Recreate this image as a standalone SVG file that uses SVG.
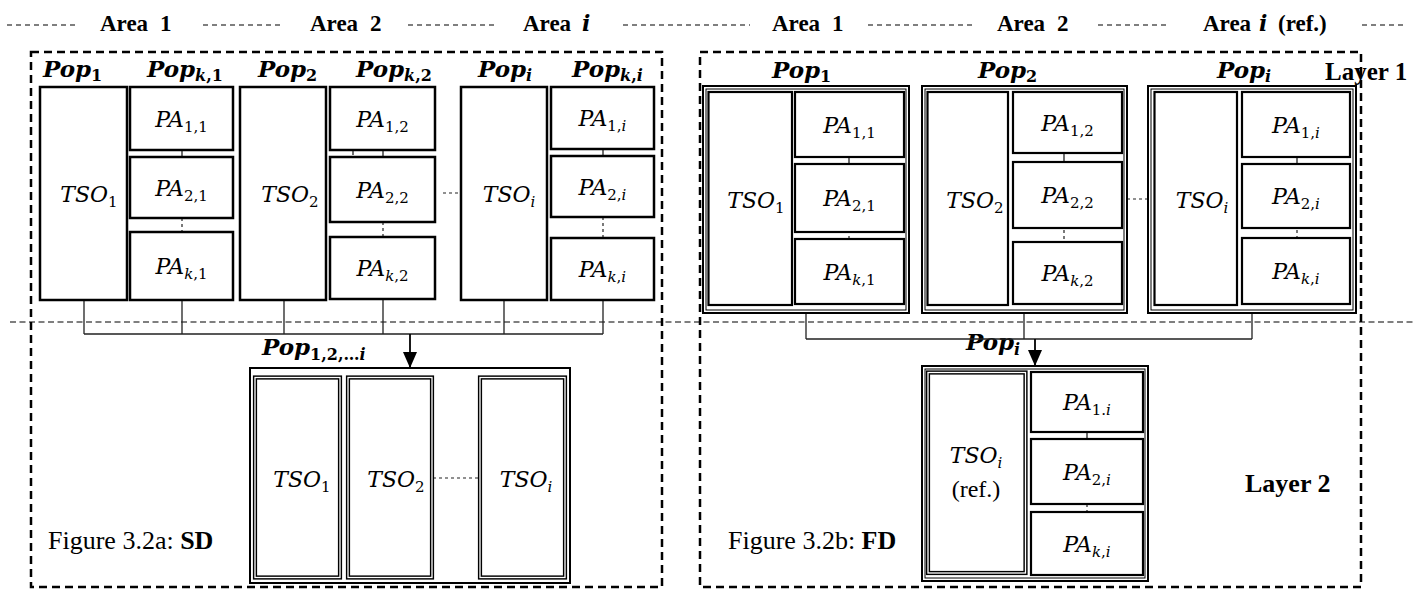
<svg xmlns="http://www.w3.org/2000/svg" width="1425" height="597" viewBox="0 0 1425 597">
<defs>
<style>
.bg{fill:#fff}
.frame{fill:none;stroke:#000;stroke-width:2.5;stroke-dasharray:8 5}
.hd{fill:none;stroke:#000;stroke-width:1.2;stroke-dasharray:5 4}
.mid{fill:none;stroke:#000;stroke-width:1.2;stroke-dasharray:6 3.5}
.bx{fill:#fff;stroke:#000;stroke-width:2.5}
.bx2{fill:#fff;stroke:#000;stroke-width:2.2}
.g2{fill:none;stroke:#000;stroke-width:2}
.g1{fill:none;stroke:#000;stroke-width:1}
.dbl{fill:#fff;stroke:#000;stroke-width:4.2}
.dblw{fill:none;stroke:#fff;stroke-width:1.3}
.cn{fill:none;stroke:#222;stroke-width:1.3}
.cnd{fill:none;stroke:#222;stroke-width:1.2;stroke-dasharray:3 3}
.arrow{fill:none;stroke:#000;stroke-width:1.8}
.m{font-family:"DejaVu Serif",serif;font-style:italic;font-size:22px;fill:#000}
.s{font-style:normal;font-size:15px}
.p{font-family:"DejaVu Serif",serif;font-style:italic;font-weight:bold;font-size:23px;fill:#000}
.ps{font-style:normal;font-size:16px}
.si{font-style:italic}
.h{font-family:"Liberation Serif",serif;font-weight:bold;font-size:23px;fill:#000}
.hi{font-family:"DejaVu Serif",serif;font-style:italic;font-weight:bold;font-size:22px}
.ly1{font-family:"Liberation Serif",serif;font-weight:bold;font-size:25px;fill:#000}
.ly2{font-family:"Liberation Serif",serif;font-weight:bold;font-size:26px;fill:#000}
.t{font-family:"Liberation Serif",serif;font-size:26px;fill:#000}
.r{font-family:"Liberation Serif",serif;font-size:24px;fill:#000}
</style>
<marker id="arr" viewBox="0 0 16 14" refX="16" refY="7" markerWidth="16" markerHeight="14" markerUnits="userSpaceOnUse" orient="auto">
<path d="M0,0 L16,7 L0,14 z" fill="#000"/>
</marker>
</defs>
<rect class="bg" x="0" y="0" width="1425" height="597"/>

<g id="header">
<line class="hd" x1="7" y1="25" x2="78" y2="25"/>
<line class="hd" x1="203" y1="25" x2="283" y2="25"/>
<line class="hd" x1="408" y1="25" x2="497" y2="25"/>
<line class="hd" x1="623" y1="25" x2="750" y2="25"/>
<line class="hd" x1="868" y1="25" x2="972" y2="25"/>
<line class="hd" x1="1098" y1="25" x2="1170" y2="25"/>
<line class="hd" x1="1362" y1="25" x2="1403" y2="25"/>
<text class="h" x="100" y="31">Area<tspan x="160">1</tspan></text>
<text class="h" x="310" y="31">Area<tspan x="370">2</tspan></text>
<text class="h" x="523" y="31">Area<tspan x="582" class="hi">i</tspan></text>
<text class="h" x="772" y="31">Area<tspan x="832">1</tspan></text>
<text class="h" x="997" y="31">Area<tspan x="1057">2</tspan></text>
<text class="h" x="1203" y="31">Area<tspan x="1259" class="hi">i</tspan><tspan x="1278">(ref.)</tspan></text>
</g>

<g id="frames">
<rect class="frame" x="31" y="52" width="631" height="535"/>
<rect class="frame" x="700" y="52" width="661" height="535"/>
<line class="mid" x1="10" y1="322" x2="1415" y2="322"/>
</g>

<g id="labels">
<text class="p" x="43" y="77">Pop<tspan class="ps" dy="4">1</tspan></text>
<text class="p" x="147" y="77">Pop<tspan class="ps" dy="4"><tspan class="si">k</tspan>,1</tspan></text>
<text class="p" x="258" y="77">Pop<tspan class="ps" dy="4">2</tspan></text>
<text class="p" x="356" y="77">Pop<tspan class="ps" dy="4"><tspan class="si">k</tspan>,2</tspan></text>
<text class="p" x="478" y="77">Pop<tspan class="ps si" dy="4">i</tspan></text>
<text class="p" x="572" y="77">Pop<tspan class="ps" dy="4"><tspan class="si">k</tspan>,<tspan class="si">i</tspan></tspan></text>
<text class="p" x="772" y="78">Pop<tspan class="ps" dy="4">1</tspan></text>
<text class="p" x="978" y="78">Pop<tspan class="ps" dy="4">2</tspan></text>
<text class="p" x="1217" y="78">Pop<tspan class="ps si" dy="4">i</tspan></text>
<text class="ly1" x="1325" y="80">Layer 1</text>
<text class="ly2" x="1245" y="492">Layer 2</text>
<text class="p" x="262" y="355">Pop<tspan class="ps" dy="5">1,2,…<tspan class="si">i</tspan></tspan></text>
<text class="p" x="966" y="350">Pop<tspan class="ps si" dy="5">i</tspan></text>
<text class="t" x="48" y="549">Figure 3.2a: <tspan font-weight="bold">SD</tspan></text>
<text class="t" x="728" y="549">Figure 3.2b: <tspan font-weight="bold">FD</tspan></text>
</g>

<g id="connectors">
<line class="cn" x1="182" y1="150" x2="182" y2="157"/>
<line class="cnd" x1="182" y1="218" x2="182" y2="240"/>
<line class="cn" x1="383" y1="150" x2="383" y2="157"/>
<line class="cn" x1="353" y1="147" x2="353" y2="155"/>
<line class="cnd" x1="383" y1="222" x2="383" y2="242"/>
<line class="cn" x1="603" y1="149" x2="603" y2="156"/>
<line class="cnd" x1="603" y1="217" x2="603" y2="239"/>
<line class="cnd" x1="443" y1="193" x2="460" y2="193"/>
<path class="cn" d="M84,300 V334 M182,300 V334 M284,300 V334 M383,300 V334 M504,300 V334 M603,300 V334 M84,334 H603"/>
<path class="arrow" d="M410,334 V368" marker-end="url(#arr)"/>
<line class="cn" x1="849" y1="157" x2="849" y2="164"/>
<line class="cnd" x1="849" y1="224" x2="849" y2="244"/>
<line class="cn" x1="1064" y1="153" x2="1064" y2="162"/>
<line class="cnd" x1="1064" y1="224" x2="1064" y2="245"/>
<line class="cn" x1="1297" y1="157" x2="1297" y2="164"/>
<line class="cnd" x1="1297" y1="224" x2="1297" y2="244"/>
<line class="cnd" x1="1127" y1="199" x2="1147" y2="199"/>
<path class="cn" d="M806,313 V339 M1024,313 V339 M1252,313 V339 M806,339 H1252"/>
<path class="arrow" d="M1035,339 V366" marker-end="url(#arr)"/>
<line class="cnd" x1="433" y1="478" x2="478" y2="478"/>
<line class="cn" x1="1087" y1="432" x2="1087" y2="439"/>
<line class="cnd" x1="1087" y1="498" x2="1087" y2="518"/>
</g>

<!-- SD layer 1 -->
<g id="sd-tso1"><rect class="bx" x="40" y="87" width="87" height="213"/><text class="m" x="89" y="202" text-anchor="middle">TSO<tspan class="s" dy="5">1</tspan></text></g>
<g id="sd-pa11"><rect class="bx" x="130" y="87" width="103" height="63"/><text class="m" x="181.5" y="126.5" text-anchor="middle">PA<tspan class="s" dy="5">1,1</tspan></text></g>
<g id="sd-pa21"><rect class="bx" x="130" y="157" width="103" height="61"/><text class="m" x="181.5" y="195.5" text-anchor="middle">PA<tspan class="s" dy="5">2,1</tspan></text></g>
<g id="sd-pak1"><rect class="bx" x="130" y="232" width="103" height="68"/><text class="m" x="181.5" y="274" text-anchor="middle">PA<tspan class="s" dy="5"><tspan class="si">k</tspan>,1</tspan></text></g>
<g id="sd-tso2"><rect class="bx" x="240" y="87" width="86" height="213"/><text class="m" x="290" y="202" text-anchor="middle">TSO<tspan class="s" dy="5">2</tspan></text></g>
<g id="sd-pa12"><rect class="bx" x="330" y="87" width="105" height="63"/><text class="m" x="382.5" y="126.5" text-anchor="middle">PA<tspan class="s" dy="5">1,2</tspan></text></g>
<g id="sd-pa22"><rect class="bx" x="330" y="157" width="105" height="65"/><text class="m" x="382.5" y="197.5" text-anchor="middle">PA<tspan class="s" dy="5">2,2</tspan></text></g>
<g id="sd-pak2"><rect class="bx" x="330" y="237" width="105" height="62"/><text class="m" x="382.5" y="276" text-anchor="middle">PA<tspan class="s" dy="5"><tspan class="si">k</tspan>,2</tspan></text></g>
<g id="sd-tsoi"><rect class="bx" x="461" y="87" width="86" height="213"/><text class="m" x="509" y="202" text-anchor="middle">TSO<tspan class="s si" dy="5">i</tspan></text></g>
<g id="sd-pa1i"><rect class="bx" x="551" y="87" width="103" height="62"/><text class="m" x="602.5" y="126" text-anchor="middle">PA<tspan class="s" dy="5">1,<tspan class="si">i</tspan></tspan></text></g>
<g id="sd-pa2i"><rect class="bx" x="551" y="156" width="103" height="61"/><text class="m" x="602.5" y="194.5" text-anchor="middle">PA<tspan class="s" dy="5">2,<tspan class="si">i</tspan></tspan></text></g>
<g id="sd-paki"><rect class="bx" x="551" y="238" width="103" height="62"/><text class="m" x="602.5" y="277" text-anchor="middle">PA<tspan class="s" dy="5"><tspan class="si">k</tspan>,<tspan class="si">i</tspan></tspan></text></g>

<!-- SD layer 2 -->
<g id="sd-central">
<rect class="g2" x="250" y="368" width="320" height="215"/>
<g id="sd-c-tso1"><rect class="dbl" x="255" y="377.5" width="85" height="200"/><rect class="dblw" x="255" y="377.5" width="85" height="200"/><text class="m" x="302" y="487" text-anchor="middle">TSO<tspan class="s" dy="5">1</tspan></text></g>
<g id="sd-c-tso2"><rect class="dbl" x="348" y="377.5" width="84" height="200"/><rect class="dblw" x="348" y="377.5" width="84" height="200"/><text class="m" x="396" y="487" text-anchor="middle">TSO<tspan class="s" dy="5">2</tspan></text></g>
<g id="sd-c-tsoi"><rect class="dbl" x="480" y="377.5" width="85" height="200"/><rect class="dblw" x="480" y="377.5" width="85" height="200"/><text class="m" x="526" y="487" text-anchor="middle">TSO<tspan class="s si" dy="5">i</tspan></text></g>
</g>

<!-- FD layer 1 -->
<g id="fd-area1">
<rect class="g2" x="703" y="86" width="206" height="227"/>
<rect class="g1" x="706" y="89" width="200" height="221"/>
<g id="fd-tso1"><rect class="bx2" x="708.5" y="92" width="83.5" height="213"/><text class="m" x="756" y="208" text-anchor="middle">TSO<tspan class="s" dy="5">1</tspan></text></g>
<g id="fd-pa11"><rect class="bx2" x="795" y="92" width="109" height="65"/><text class="m" x="849.5" y="132.5" text-anchor="middle">PA<tspan class="s" dy="5">1,1</tspan></text></g>
<g id="fd-pa21"><rect class="bx2" x="795" y="164" width="109" height="68"/><text class="m" x="849.5" y="206" text-anchor="middle">PA<tspan class="s" dy="5">2,1</tspan></text></g>
<g id="fd-pak1"><rect class="bx2" x="795" y="239" width="109" height="65"/><text class="m" x="849.5" y="279.5" text-anchor="middle">PA<tspan class="s" dy="5"><tspan class="si">k</tspan>,1</tspan></text></g>
</g>
<g id="fd-area2">
<rect class="g2" x="922" y="86" width="205" height="227"/>
<rect class="g1" x="925" y="89" width="199" height="221"/>
<g id="fd-tso2"><rect class="bx2" x="927.5" y="92" width="80.5" height="213"/><text class="m" x="975" y="208" text-anchor="middle">TSO<tspan class="s" dy="5">2</tspan></text></g>
<g id="fd-pa12"><rect class="bx2" x="1013" y="92" width="109" height="61"/><text class="m" x="1067.5" y="130.5" text-anchor="middle">PA<tspan class="s" dy="5">1,2</tspan></text></g>
<g id="fd-pa22"><rect class="bx2" x="1013" y="162" width="109" height="66"/><text class="m" x="1067.5" y="203" text-anchor="middle">PA<tspan class="s" dy="5">2,2</tspan></text></g>
<g id="fd-pak2"><rect class="bx2" x="1013" y="242" width="109" height="62"/><text class="m" x="1067.5" y="281" text-anchor="middle">PA<tspan class="s" dy="5"><tspan class="si">k</tspan>,2</tspan></text></g>
</g>
<g id="fd-areai">
<rect class="g2" x="1148" y="86" width="208" height="227"/>
<rect class="g1" x="1151" y="89" width="202" height="221"/>
<g id="fd-tsoi"><rect class="bx2" x="1154.5" y="92" width="82.5" height="213"/><text class="m" x="1202" y="208" text-anchor="middle">TSO<tspan class="s si" dy="5">i</tspan></text></g>
<g id="fd-pa1i"><rect class="bx2" x="1242" y="92" width="108" height="65"/><text class="m" x="1296" y="132.5" text-anchor="middle">PA<tspan class="s" dy="5">1,<tspan class="si">i</tspan></tspan></text></g>
<g id="fd-pa2i"><rect class="bx2" x="1242" y="164" width="108" height="64"/><text class="m" x="1296" y="204" text-anchor="middle">PA<tspan class="s" dy="5">2,<tspan class="si">i</tspan></tspan></text></g>
<g id="fd-paki"><rect class="bx2" x="1242" y="238" width="108" height="66"/><text class="m" x="1296" y="279" text-anchor="middle">PA<tspan class="s" dy="5"><tspan class="si">k</tspan>,<tspan class="si">i</tspan></tspan></text></g>
</g>

<!-- FD layer 2 -->
<g id="fd-central">
<rect class="g2" x="922" y="366" width="226" height="215"/>
<rect class="g1" x="925" y="369" width="220" height="209"/>
<g id="fd-c-tsoi"><rect class="dbl" x="928" y="372.5" width="97.5" height="200.5"/><rect class="dblw" x="928" y="372.5" width="97.5" height="200.5"/><text class="m" x="976" y="463" text-anchor="middle">TSO<tspan class="s si" dy="5">i</tspan></text><text class="r" x="976" y="497" text-anchor="middle">(ref.)</text></g>
<g id="fd-c-pa1i"><rect class="bx2" x="1031" y="372" width="112" height="60"/><text class="m" x="1087" y="410" text-anchor="middle">PA<tspan class="s" dy="5">1.<tspan class="si">i</tspan></tspan></text></g>
<g id="fd-c-pa2i"><rect class="bx2" x="1031" y="439" width="112" height="65"/><text class="m" x="1087" y="479.5" text-anchor="middle">PA<tspan class="s" dy="5">2,<tspan class="si">i</tspan></tspan></text></g>
<g id="fd-c-paki"><rect class="bx2" x="1031" y="512" width="112" height="63"/><text class="m" x="1087" y="551.5" text-anchor="middle">PA<tspan class="s" dy="5"><tspan class="si">k</tspan>,<tspan class="si">i</tspan></tspan></text></g>
</g>
</svg>
